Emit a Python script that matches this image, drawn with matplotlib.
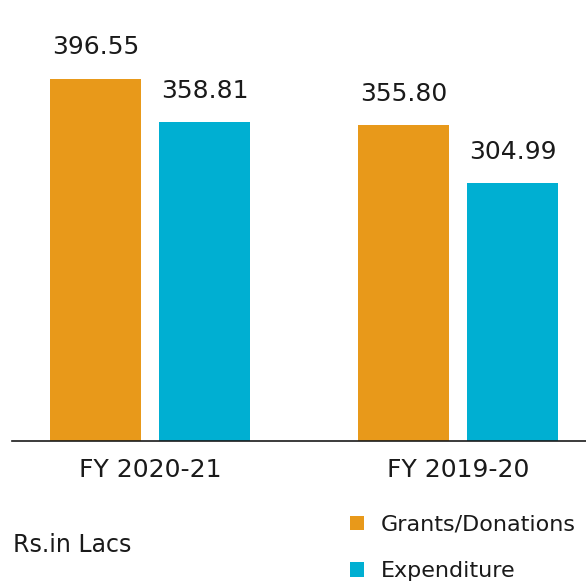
import matplotlib
matplotlib.use("Agg")
import matplotlib.pyplot as plt
import numpy as np

# data (Rs. in Lacs)
years = ["FY 2020-21", "FY 2019-20"]
grants = [396.55, 355.80]
expenditure = [358.81, 304.99]
value_labels_grants = ["396.55", "355.80"]
value_labels_exp = ["358.81", "304.99"]

ORANGE = "#E8991A"
BLUE = "#00AFD2"
TEXT = "#1a1a1a"

plt.rcParams['font.family'] = ['DejaVu Sans']

fig = plt.figure(figsize=(5.86, 5.83), dpi=100)
ax = fig.add_axes([12 / 586, (583 - 441) / 583, 1 - 12 / 586, 441 / 583])

x = np.arange(len(years))
off = 0.177
w = 0.2955
b1 = ax.bar(x - off, grants, w, color=ORANGE, label="Grants/Donations")
b2 = ax.bar(x + off, expenditure, w, color=BLUE, label="Expenditure")

for bars, labels in ((b1, value_labels_grants), (b2, value_labels_exp)):
    for r, lab in zip(bars, labels):
        ax.annotate(lab, (r.get_x() + r.get_width() / 2, r.get_height()),
                    xytext=(0, 22.5), textcoords="offset points",
                    ha="center", va="center", fontsize=18, color=TEXT)

ax.set_xlim(-0.448, 1.4156)
ax.set_ylim(80, 465.3)

for s in ("top", "right", "left"):
    ax.spines[s].set_visible(False)
ax.spines["bottom"].set_color(TEXT)
ax.spines["bottom"].set_linewidth(1.2)
ax.set_yticks([])
ax.set_xticks(x)
ax.set_xticklabels(years, fontsize=18, color=TEXT)
ax.tick_params(axis="x", length=0, pad=12)

fig.text(13 / 586, (583 - 545) / 583, "Rs.in Lacs", fontsize=17, color=TEXT,
         ha="left", va="center")

fig.legend(handles=[b1, b2], loc="upper left", bbox_to_anchor=(0.597, 0.117),
           frameon=False, fontsize=16, handlelength=0.63, handleheight=0.63,
           handletextpad=0.77, labelspacing=1.19, borderpad=0, borderaxespad=0,
           labelcolor=TEXT)

plt.savefig("out.png", dpi=100)
